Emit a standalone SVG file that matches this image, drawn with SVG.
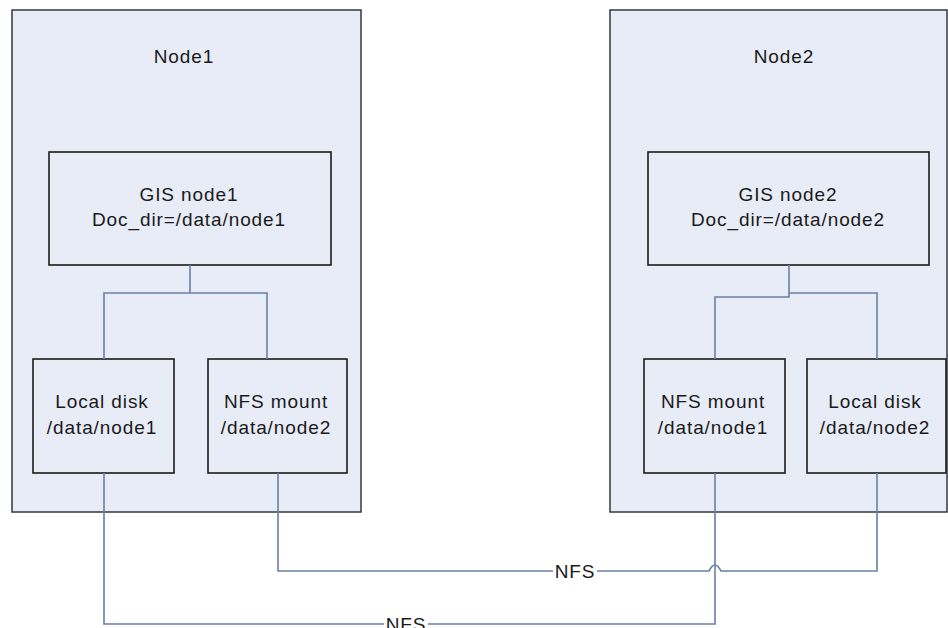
<svg xmlns="http://www.w3.org/2000/svg" width="948" height="628" viewBox="0 0 948 628">
  <style>
    .host { fill: #e8ecf6; stroke: #333840; stroke-width: 1.5; }
    .box { fill: #e8ecf6; stroke: #1c1c1c; stroke-width: 1.6; }
    .lbl { font-family: "Liberation Sans", Arial, sans-serif; font-size: 19px; letter-spacing: 0.9px; fill: #1a1a1a; text-anchor: middle; }
    .wire { fill: none; stroke: #6a7fa6; stroke-width: 1.6; }
    .tag { font-family: "Liberation Sans", Arial, sans-serif; font-size: 19px; letter-spacing: 0.9px; fill: #1a1a1a; text-anchor: middle; }
    .gap { fill: #ffffff; }
  </style>
  <rect width="948" height="628" fill="#ffffff"/>

  <!-- Host containers -->
  <g id="node1">
    <rect class="host" x="12" y="10" width="349" height="502"/>
    <text class="lbl" x="184" y="63">Node1</text>
  </g>
  <g id="node2">
    <rect class="host" x="610" y="10" width="337" height="502"/>
    <text class="lbl" x="784" y="63">Node2</text>
  </g>

  <!-- GIS instances -->
  <g id="gis1">
    <rect class="box" x="49" y="152" width="282" height="113"/>
    <text class="lbl" x="189" y="201">GIS node1</text>
    <text class="lbl" x="189" y="226">Doc_dir=/data/node1</text>
  </g>
  <g id="gis2">
    <rect class="box" x="648" y="152" width="281" height="113"/>
    <text class="lbl" x="788" y="201">GIS node2</text>
    <text class="lbl" x="788" y="226">Doc_dir=/data/node2</text>
  </g>

  <!-- Storage on node 1 -->
  <g id="local1">
    <rect class="box" x="33" y="359" width="141" height="114"/>
    <text class="lbl" x="102" y="408">Local disk</text>
    <text class="lbl" x="102" y="434">/data/node1</text>
  </g>
  <g id="nfs1">
    <rect class="box" x="208" y="359" width="139" height="114"/>
    <text class="lbl" x="276" y="408">NFS mount</text>
    <text class="lbl" x="276" y="434">/data/node2</text>
  </g>

  <!-- Storage on node 2 -->
  <g id="nfs2">
    <rect class="box" x="644" y="359" width="141" height="114"/>
    <text class="lbl" x="713" y="408">NFS mount</text>
    <text class="lbl" x="713" y="434">/data/node1</text>
  </g>
  <g id="local2">
    <rect class="box" x="807" y="359" width="139" height="114"/>
    <text class="lbl" x="875" y="408">Local disk</text>
    <text class="lbl" x="875" y="434">/data/node2</text>
  </g>

  <!-- Connectors -->
  <g id="connectors">
    <path class="wire" d="M190,265 V293 M104,359 V293 H267 V359"/>
    <path class="wire" d="M789,265 V297 H715 V359"/>
    <path class="wire" d="M789,293 H877 V359"/>
    <!-- node1 NFS mount to node2 local disk, hopping over the other link -->
    <path class="wire" d="M278,473 V571 H709 Q715,559 721,571 H877 V473"/>
    <!-- node1 local disk to node2 NFS mount -->
    <path class="wire" d="M104,473 V624 H715 V473"/>
    <rect class="gap" x="553" y="562" width="44" height="18"/>
    <text class="tag" x="575" y="578">NFS</text>
    <rect class="gap" x="384" y="615" width="44" height="13"/>
    <text class="tag" x="406" y="631">NFS</text>
  </g>
</svg>
